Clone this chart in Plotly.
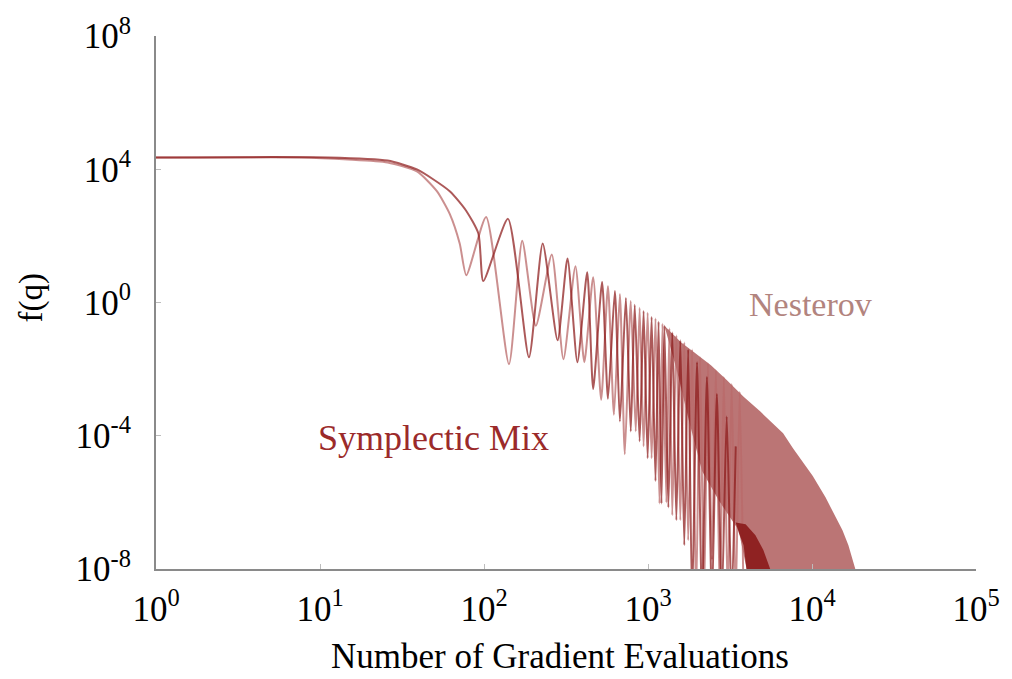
import plotly.graph_objects as go

# ---- data ----
nesterov_x = [1, 7.4, 14.8, 25.8, 39, 51.6, 61.8, 71.1, 78, 103, 142, 171, 207, 259, 305, 361,
              409, 463, 518, 570, 620, 674, 722, 785, 842, 889, 940, 995, 1052, 1111, 1175,
              1225, 1295, 1349, 1406, 1489, 1574, 1664, 1758, 1858, 1964, 2076, 2195, 2320,
              2454, 2594, 2742, 2900, 3063, 3236, 3427, 3622, 3828]
nesterov_y = [22400, 22400, 19500, 15900, 8600, 2190, 456, 59, 6.6, 371, 0.0141, 72, 0.20,
              27.7, 0.0198, 12.2, 0.0161, 5.75, 0.0012, 3.1, 4.3e-4, 1.8, 2.8e-5, 1.1, 1.35e-4,
              0.69, 4.8e-5, 0.49, 2.1e-5, 0.33, 9.2e-7, 0.23, 9.9e-7, 0.165, 4.1e-7, 0.102,
              2.9e-7, 0.063, 7.3e-8, 0.039, 1e-9, 0.0227, 1e-9, 0.0151, 1.9e-8, 0.0093, 1e-9,
              0.0058, 1e-9, 0.0036, 1e-9, 0.0021, 1e-9]

# dense tail of Nesterov drawn as a band (upper envelope, then lower edge back)
nesterov_band_x = [1225, 1595, 1910, 2420, 3020, 3828, 4843, 6666, 7656, 10110, 12110, 15340,
                   16670, 18370, 18900, 4395, 3570, 2704, 2135, 1782, 1509, 1259]
nesterov_band_y = [0.23, 0.063, 0.032, 0.0131, 0.0047, 0.00148, 5.3e-4, 1.18e-4, 4.2e-5,
                   6.2e-6, 1.39e-6, 1.46e-7, 5.2e-8, 1e-8, 1e-9, 1e-9, 1.46e-7, 1.13e-6,
                   8.8e-6, 2.67e-4, 8.1e-3, 0.20]

symplectic_x = [1, 11.2, 25.8, 39, 61.8, 78, 92.5, 99, 140, 188, 228, 281, 323, 371, 426, 463,
                525, 570, 628, 674, 733, 785, 830, 889, 940, 995, 1052, 1111, 1160, 1208, 1259,
                1331, 1406, 1489, 1574, 1664, 1758, 1858, 1991, 2135, 2287, 2454, 2630, 2818,
                3020, 3236, 3427]
symplectic_y = [22600, 22600, 18200, 9860, 2190, 560, 116, 4.4, 324, 0.0227, 59, 0.073, 21,
                0.0161, 8.1, 0.00255, 4.1, 0.00129, 2.2, 2.67e-4, 1.37, 1.35e-4, 0.85, 6.8e-5,
                0.56, 2.1e-5, 0.37, 4.4e-6, 0.265, 9.2e-7, 0.20, 7e-7, 0.125, 2.9e-7, 0.073,
                5.2e-8, 0.039, 1e-9, 0.0161, 1e-9, 0.0058, 1e-9, 0.0018, 1e-9, 3.8e-4, 1e-9,
                4.8e-5]

# dense tail of Symplectic Mix near the bottom
symplectic_band_x = [3427, 3936, 4520, 5050, 5560, 5650, 4217, 3828, 3570]
symplectic_band_y = [2.5e-7, 2.2e-7, 1.03e-7, 3.7e-8, 1e-8, 1e-9, 1e-9, 5.2e-8, 1.27e-7]

x_tickvals = [1, 10, 100, 1000, 10000, 100000]
x_ticktext = ["10<sup>0</sup>", "10<sup>1</sup>", "10<sup>2</sup>", "10<sup>3</sup>",
              "10<sup>4</sup>", "10<sup>5</sup>"]
y_tickvals = [1e-8, 1e-4, 1, 1e4, 1e8]
y_ticktext = ["10<sup>-8</sup>", "10<sup>-4</sup>", "10<sup>0</sup>", "10<sup>4</sup>",
              "10<sup>8</sup>"]

# ---- styles ----
NEST_LINE = "rgba(185,105,105,0.75)"
NEST_FILL = "rgba(178,98,98,0.88)"
SYMP_LINE = "rgba(140,25,25,0.72)"
SYMP_FILL = "rgba(135,20,20,0.85)"
FONT = "Liberation Serif"

fig = go.Figure()
fig.add_trace(go.Scatter(x=nesterov_band_x, y=nesterov_band_y, mode="lines", fill="toself",
                         fillcolor=NEST_FILL, line=dict(width=0), hoverinfo="skip",
                         showlegend=False))
fig.add_trace(go.Scatter(x=nesterov_x, y=nesterov_y, mode="lines",
                         line=dict(color=NEST_LINE, width=2, shape="spline", smoothing=0.6),
                         showlegend=False, name="Nesterov"))
fig.add_trace(go.Scatter(x=symplectic_x, y=symplectic_y, mode="lines",
                         line=dict(color=SYMP_LINE, width=2, shape="spline", smoothing=0.6),
                         showlegend=False, name="Symplectic Mix"))
fig.add_trace(go.Scatter(x=symplectic_band_x, y=symplectic_band_y, mode="lines", fill="toself",
                         fillcolor=SYMP_FILL, line=dict(width=0), hoverinfo="skip",
                         showlegend=False))

axis_common = dict(type="log", showgrid=False, zeroline=False, showline=True,
                   linecolor="#8a8a8a", linewidth=2, ticks="inside", ticklen=5,
                   tickcolor="#bdbdbd", tickwidth=1,
                   tickfont=dict(family=FONT, size=35, color="black"))

fig.update_layout(
    width=1012, height=679,
    margin=dict(l=156, r=27, t=30, b=110),
    paper_bgcolor="white", plot_bgcolor="white",
    xaxis=dict(range=[0, 5], tickvals=x_tickvals, ticktext=x_ticktext,
               ticklabelstandoff=8, **axis_common),
    yaxis=dict(range=[-8, 8], tickvals=y_tickvals, ticktext=y_ticktext,
               ticklabelstandoff=16, **axis_common),
    annotations=[
        dict(text="Number of Gradient Evaluations", xref="paper", yref="paper",
             x=0.493, y=-0.165, xanchor="center", yanchor="middle", showarrow=False,
             font=dict(family=FONT, size=35, color="black")),
        dict(text="f(q)", xref="paper", yref="paper", x=-0.152, y=0.508,
             xanchor="center", yanchor="middle",
             textangle=-90, showarrow=False,
             font=dict(family=FONT, size=33, color="black")),
        dict(text="Nesterov", x=3.993, y=-0.07, xref="x", yref="y", showarrow=False,
             font=dict(family=FONT, size=34, color="rgb(178,132,126)")),
        dict(text="Symplectic Mix", x=1.695, y=-4.08, xref="x", yref="y", showarrow=False,
             font=dict(family=FONT, size=36, color="rgb(155,42,42)")),
    ],
)

fig.write_html("out.html")
